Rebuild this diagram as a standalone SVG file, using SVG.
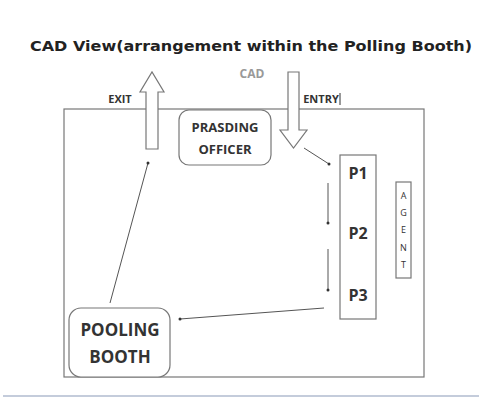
<svg xmlns="http://www.w3.org/2000/svg" width="482" height="405" viewBox="0 0 482 405">
<style>
.lbl{font-family:"Open Sans","Liberation Sans",sans-serif;fill:#333;text-anchor:middle}
.box{fill:#fff;stroke:#777;stroke-width:1.2}
.con{stroke:#555;stroke-width:1;fill:none;marker-end:url(#dot)}
.arr{fill:#fff;stroke:#777;stroke-width:1.2}
</style>
<defs>
<marker id="dot" markerWidth="4" markerHeight="4" refX="2" refY="2" markerUnits="userSpaceOnUse"><circle cx="2" cy="2" r="1.5" fill="#333"/></marker>
</defs>
<rect width="482" height="405" fill="#fff"/>
<text x="251" y="51" font-family="'DejaVu Sans',sans-serif" font-weight="bold" font-size="14" fill="#222" text-anchor="middle" textLength="442" lengthAdjust="spacingAndGlyphs">CAD View(arrangement within the Polling Booth)</text>
<g id="room"><rect x="64" y="109" width="360" height="268" fill="none" stroke="#777" stroke-width="1.2"/></g>
<line x1="3" y1="396" x2="479" y2="396" stroke="#8a9ab8" stroke-width="1.2"/>
<g id="exit">
<polygon class="arr" points="146,149 158,149 158,92 164,92 152,72 140,92 146,92"/>
<text class="lbl" x="120" y="103" font-size="11" font-weight="bold">EXIT</text>
</g>
<g id="entry">
<polygon class="arr" points="288,72 299,72 299,130 307,130 293.5,148 280,130 288,130"/>
<text class="lbl" x="252" y="78" font-size="12" font-weight="bold" style="fill:#999">CAD</text>
<text class="lbl" x="321" y="103" font-size="11" font-weight="bold">ENTRY</text>
<line x1="340" y1="93" x2="340" y2="105" stroke="#333" stroke-width="1"/>
</g>
<g id="officer">
<rect class="box" x="179" y="110" width="92" height="55" rx="10"/>
<text class="lbl" x="225" y="132" font-size="13" font-weight="bold">PRASDING</text>
<text class="lbl" x="225" y="154" font-size="13" font-weight="bold">OFFICER</text>
</g>
<g id="p-column">
<rect class="box" x="340" y="155" width="36" height="164"/>
<text class="lbl" x="358" y="179" font-size="16" font-weight="bold">P1</text>
<text class="lbl" x="358" y="239" font-size="16" font-weight="bold">P2</text>
<text class="lbl" x="358" y="301" font-size="16" font-weight="bold">P3</text>
</g>
<g id="agent">
<rect class="box" x="396" y="182" width="15" height="96"/>
<text class="lbl" x="403.5" y="199" font-size="9">A</text>
<text class="lbl" x="403.5" y="216" font-size="9">G</text>
<text class="lbl" x="403.5" y="233" font-size="9">E</text>
<text class="lbl" x="403.5" y="251" font-size="9">N</text>
<text class="lbl" x="403.5" y="268" font-size="9">T</text>
</g>
<g id="booth">
<rect class="box" x="69" y="308" width="101" height="69" rx="12"/>
<text class="lbl" x="120" y="336" font-size="17" font-weight="bold">POOLING</text>
<text class="lbl" x="120" y="363" font-size="17" font-weight="bold">BOOTH</text>
</g>
<g id="connectors">
<line class="con" x1="304" y1="148" x2="329" y2="164"/>
<line class="con" x1="328" y1="183" x2="328" y2="223"/>
<line class="con" x1="328" y1="249" x2="328" y2="290"/>
<line class="con" x1="324" y1="308" x2="180" y2="319"/>
<line class="con" x1="110" y1="303" x2="148" y2="163"/>
</g>
</svg>
